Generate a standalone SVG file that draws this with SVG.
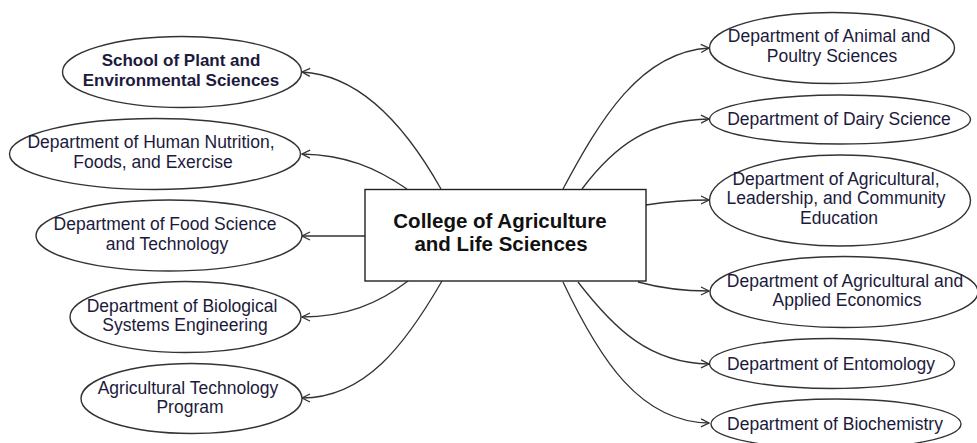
<svg xmlns="http://www.w3.org/2000/svg" width="977" height="443" viewBox="0 0 977 443">
<defs>
<style>
.n ellipse{fill:#fff;stroke:#333;stroke-width:1.4}
.t{font-family:"Liberation Sans",Arial,sans-serif;font-size:17.5px;fill:#1c1a3c;text-anchor:middle}
.b{font-weight:bold;font-size:17px}
.c{font-family:"Liberation Sans",Arial,sans-serif;font-size:20.5px;font-weight:bold;fill:#111;text-anchor:middle}
#edges path{fill:none;stroke:#333;stroke-width:1.3;marker-end:url(#ar)}
</style>
<marker id="ar" viewBox="0 0 10 10" refX="9" refY="5" markerWidth="10" markerHeight="10" markerUnits="userSpaceOnUse" orient="auto">
<path d="M1,1 L9,5 L1,9" fill="none" stroke="#333" stroke-width="1.3"/>
</marker>
</defs>
<rect width="977" height="443" fill="#fff"/>
<g id="edges">
<path d="M441,189 C405,125 360,75 302,72"/>
<path d="M407,189 C375,167 345,155 302,154"/>
<path d="M365,236 L302,236"/>
<path d="M408,281 C378,304 345,317 302,317"/>
<path d="M442,281 C405,345 365,398 302,398"/>
<path d="M563,189 C600,120 640,52 709,48"/>
<path d="M582,189 C615,145 650,120 709,119"/>
<path d="M646,205 C665,202 685,200 709,200"/>
<path d="M638,282 C660,288 685,291 709,291"/>
<path d="M578,282 C615,330 650,363 709,364"/>
<path d="M563,282 C600,360 640,422 709,423"/>
</g>
<g id="center">
<rect x="365" y="189.5" width="281" height="91.5" fill="#fff" stroke="#222" stroke-width="1.4"/>
<text class="c" x="500" y="228">College of Agriculture</text>
<text class="c" x="501" y="251">and Life Sciences</text>
</g>
<g id="n1" class="n"><ellipse cx="182" cy="72" rx="119.5" ry="35.5"/>
<text class="t b" x="181" y="66">School of Plant and</text><text class="t b" x="181" y="86">Environmental Sciences</text></g>
<g id="n2" class="n"><ellipse cx="155" cy="154" rx="145.5" ry="35.5"/>
<text class="t" x="151" y="148">Department of Human Nutrition,</text><text class="t" x="153" y="167.5">Foods, and Exercise</text></g>
<g id="n3" class="n"><ellipse cx="169" cy="235.5" rx="133" ry="35.5"/>
<text class="t" x="165" y="230">Department of Food Science</text><text class="t" x="167" y="249.5">and Technology</text></g>
<g id="n4" class="n"><ellipse cx="185.5" cy="317" rx="115.5" ry="35.5"/>
<text class="t" x="182" y="311.5">Department of Biological</text><text class="t" x="185" y="331">Systems Engineering</text></g>
<g id="n5" class="n"><ellipse cx="191.5" cy="398.5" rx="110.5" ry="35"/>
<text class="t" x="188" y="393.5">Agricultural Technology</text><text class="t" x="190" y="413">Program</text></g>
<g id="n6" class="n"><ellipse cx="832" cy="48" rx="122.5" ry="35.5"/>
<text class="t" x="829" y="42">Department of Animal and</text><text class="t" x="832" y="61.5">Poultry Sciences</text></g>
<g id="n7" class="n"><ellipse cx="840" cy="119.5" rx="130.5" ry="24.5"/>
<text class="t" x="839" y="125">Department of Dairy Science</text></g>
<g id="n8" class="n"><ellipse cx="840" cy="200.5" rx="130.5" ry="45.5"/>
<text class="t" x="836" y="184.5">Department of Agricultural,</text><text class="t" x="836" y="204">Leadership, and Community</text><text class="t" x="839" y="223.5">Education</text></g>
<g id="n9" class="n"><ellipse cx="844" cy="292" rx="134" ry="35.5"/>
<text class="t" x="845" y="286.5">Department of Agricultural and</text><text class="t" x="847" y="306">Applied Economics</text></g>
<g id="n10" class="n"><ellipse cx="832" cy="363.5" rx="122.5" ry="25"/>
<text class="t" x="831" y="369.5">Department of Entomology</text></g>
<g id="n11" class="n"><ellipse cx="836" cy="424" rx="125" ry="25"/>
<text class="t" x="835" y="430">Department of Biochemistry</text></g>
</svg>
